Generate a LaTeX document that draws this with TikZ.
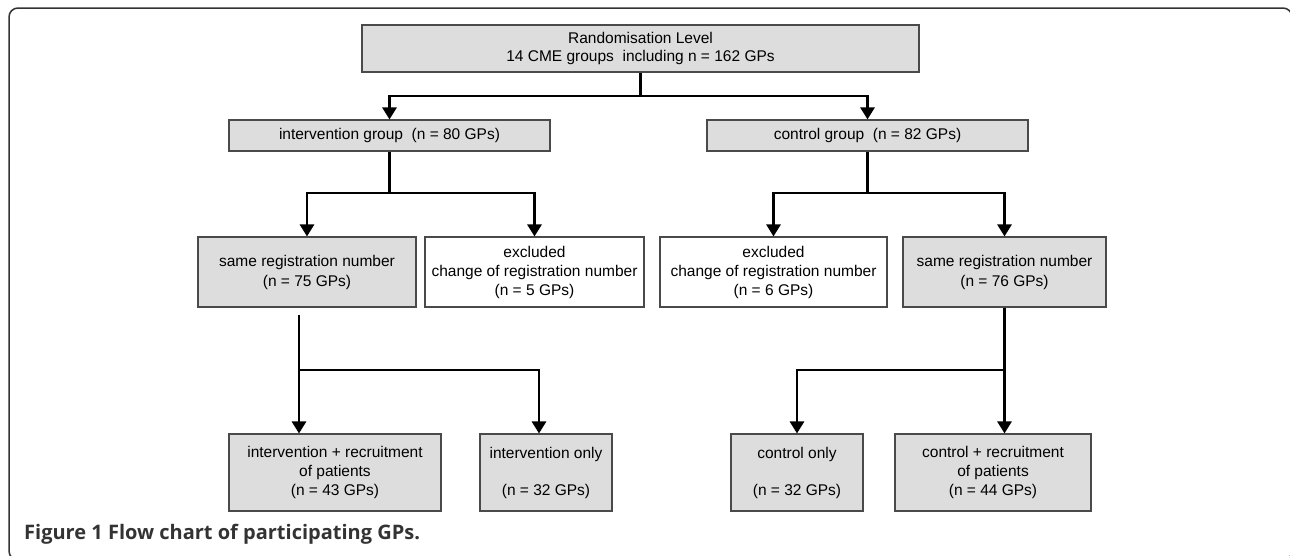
\documentclass[tikz,border=0pt]{standalone}
\usepackage{amsmath}
\usepackage{fontspec}
\setmainfont{Liberation Sans}
\newfontfamily\captionfont{Open Sans}
\usetikzlibrary{arrows.meta}
\definecolor{boxgray}{HTML}{DDDDDD}
\definecolor{edgegray}{HTML}{4A4A4A}
\definecolor{framegray}{HTML}{333333}

\begin{document}
\begin{tikzpicture}[x = 1pt, y = -1pt, font = \fontsize{15.5}{19}\selectfont,
        box/.style = {draw = edgegray, line width = 1.1pt, fill = boxgray, align = center, inner sep = 0pt},
        whitebox/.style = {box, fill = white},
        conn/.style = {line width = 2.8pt},
        arr/.style = {conn, -{Triangle[width = 14pt, length = 12pt]}}]
        \useasboundingbox (0,0) rectangle (1290,555);
        \clip (0,0) rectangle (1290,555);

        \draw [draw = framegray, line width = 1.5pt, rounded corners = 9pt] (9,8) rectangle (1292,560);

        \node [box, minimum width = 557pt, minimum height = 47pt] (rand) at (640.5,48.5)
                {Randomisation Level\\[-1pt]14 CME groups~ including n = 162 GPs};

        \node [box, minimum width = 321pt, minimum height = 31pt] (intgrp) at (389.5,135.5)
                {intervention group~ (n = 80 GPs)};
        \node [box, minimum width = 321pt, minimum height = 31pt] (ctlgrp) at (867.5,135.5)
                {control group~ (n = 82 GPs)};

        \node [box, minimum width = 218pt, minimum height = 70pt] (sameL) at (307,272)
                {same registration number\\[1pt](n = 75 GPs)};
        \node [whitebox, minimum width = 219pt, minimum height = 70pt] (exclL) at (534.5,272)
                {excluded\\change of registration number\\(n = 5 GPs)};
        \node [whitebox, minimum width = 227pt, minimum height = 70pt] (exclR) at (773.5,272)
                {excluded\\change of registration number\\(n = 6 GPs)};
        \node [box, minimum width = 203pt, minimum height = 70pt] (sameR) at (1004.5,272)
                {same registration number\\[1pt](n = 76 GPs)};

        \node [box, minimum width = 212pt, minimum height = 77pt] (intrec) at (335,472.5)
                {intervention + recruitment\\of patients\\(n = 43 GPs)};
        \node [box, minimum width = 132pt, minimum height = 77pt] (intonly) at (546,472.5)
                {intervention only\\[18pt](n = 32 GPs)};
        \node [box, minimum width = 132pt, minimum height = 77pt] (ctlonly) at (797,472.5)
                {control only\\[18pt](n = 32 GPs)};
        \node [box, minimum width = 196pt, minimum height = 77pt] (ctlrec) at (993,472.5)
                {control + recruitment\\of patients\\(n = 44 GPs)};

        \coordinate (splitTop) at (640.5,96);
        \coordinate (splitInt) at (389.5,193);
        \coordinate (splitCtl) at (867.5,193);
        \coordinate (stemL) at (299,315);
        \coordinate (splitL) at (299,370);
        \coordinate (splitR) at (1004.5,370);

        \draw [conn] (rand) -- (splitTop);
        \draw [arr] (splitTop) -| (intgrp);
        \draw [arr] (splitTop) -| (ctlgrp);

        \draw [conn] (intgrp) -- (splitInt);
        \draw [arr] (splitInt) -| (sameL);
        \draw [arr] (splitInt) -| (exclL);

        \draw [conn] (ctlgrp) -- (splitCtl);
        \draw [arr] (splitCtl) -| (exclR);
        \draw [arr] (splitCtl) -| (sameR);

        \draw [arr] (stemL) -- (stemL |- intrec.north);
        \draw [arr] (splitL) -| (intonly.north -| 539,0);

        \draw [arr] (sameR) -- (splitR |- ctlrec.north);
        \draw [arr] (splitR) -| (ctlonly);

        \node [anchor = base west, inner sep = 0pt, text = framegray,
                font = \captionfont\bfseries\fontsize{20}{24}\selectfont] (caption) at (24,539)
                {Figure 1 Flow chart of participating GPs.};
\end{tikzpicture}
\end{document}
